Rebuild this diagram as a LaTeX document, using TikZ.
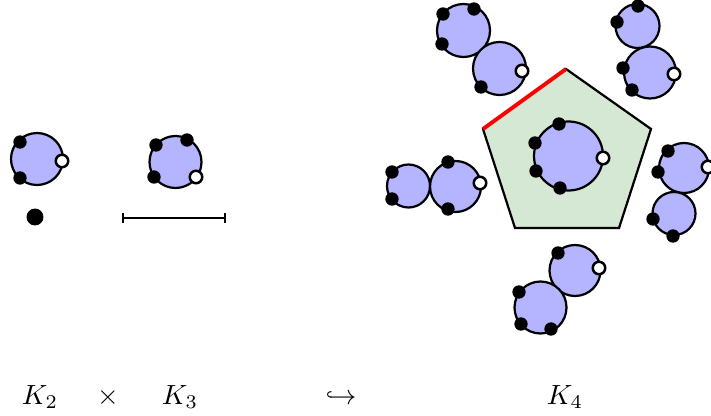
\documentclass[tikz,border=0pt]{standalone}
\usetikzlibrary{arrows.meta}
\definecolor{bubblue}{RGB}{180,180,255}
\definecolor{pentgreen}{RGB}{213,232,212}
\begin{document}
\begin{tikzpicture}[x=0.36pt,y=-0.36pt,
  bub/.style={circle, draw, fill=bubblue, line width=0.8pt, minimum size=#1*0.72pt, inner sep=0pt},
  bdot/.style={circle, fill=black, minimum size=4.8pt, inner sep=0pt},
  wdot/.style={circle, draw, fill=white, line width=0.9pt, minimum size=4.5pt, inner sep=0pt},
  lab/.style={inner sep=0pt, anchor=base}]
\useasboundingbox (0,0) rectangle (711,415);
% K2
\node[bub=26] (a) at (37,159) {};
\node[bdot] (a1) at (20,142) {};
\node[bdot] (a2) at (20,178) {};
\node[wdot] (a3) at (62,161) {};
\node[circle, fill=black, minimum size=6.1pt, inner sep=0pt] (pt) at (35,217) {};
% K3
\node[bub=26] (b) at (175.5,162) {};
\node[bdot] (b1) at (156,145) {};
\node[bdot] (b2) at (187,140) {};
\node[bdot] (b3) at (154,177) {};
\node[wdot] (b4) at (196,177) {};
\coordinate (s1) at (122,218);
\coordinate (s2) at (226,218);
\draw[line width=0.65pt, {Bar[width=3.5pt]}-{Bar[width=3.5pt]}] (s1) -- (s2);
% pentagon
\coordinate (p1) at (566,69);
\coordinate (p2) at (651,129);
\coordinate (p3) at (619,228);
\coordinate (p4) at (515,228);
\coordinate (p5) at (483,129);
\draw[fill=pentgreen, line width=0.8pt, line join=miter] (p1) -- (p2) -- (p3) -- (p4) -- (p5) -- cycle;
\draw[red, line width=1.4pt] (p5) -- (p1);
% inner bubble
\node[bub=34.5] (c) at (568.5,156) {};
\node[bdot] (c1) at (559,124) {};
\node[bdot] (c2) at (535,143) {};
\node[bdot] (c3) at (536,171) {};
\node[bdot] (c4) at (560,188) {};
\node[wdot] (c5) at (603,158) {};
% top-left pair
\node[bub=26.5] (d) at (463.5,30.5) {};
\node[bub=26.5] (e) at (499.5,68.5) {};
\node[bdot] (d1) at (443,14) {};
\node[bdot] (d2) at (474,9) {};
\node[bdot] (d3) at (442,44) {};
\node[wdot] (e1) at (522,71) {};
\node[bdot] (e2) at (481,87) {};
% top-right pair
\node[bub=22] (f) at (637.5,26) {};
\node[bub=26] (g) at (650,72.5) {};
\node[bdot] (f1) at (638,6) {};
\node[bdot] (f2) at (617,22) {};
\node[bdot] (g1) at (623,68) {};
\node[bdot] (g2) at (632,90) {};
\node[wdot] (g3) at (674,74) {};
% left pair
\node[bub=21.5] (h) at (408.5,186) {};
\node[bub=25.5] (i) at (455.5,186.5) {};
\node[bdot] (h1) at (392,172) {};
\node[bdot] (h2) at (392,199) {};
\node[bdot] (i1) at (448,162) {};
\node[bdot] (i2) at (448,209) {};
\node[wdot] (i3) at (480,183) {};
% right pair
\node[bub=25] (j) at (684,168) {};
\node[bub=21.5] (k) at (674,213.5) {};
\node[bdot] (j1) at (668,151) {};
\node[bdot] (j2) at (658,172) {};
\node[wdot] (j3) at (708,167) {};
\node[bdot] (k1) at (653,219) {};
\node[bdot] (k2) at (673,236) {};
% bottom pair
\node[bub=25.5] (l) at (575,270.5) {};
\node[bub=26] (m) at (540.5,307.5) {};
\node[bdot] (l1) at (558,253) {};
\node[wdot] (l2) at (599,268) {};
\node[bdot] (m1) at (519,292) {};
\node[bdot] (m2) at (521,324) {};
\node[bdot] (m3) at (551,329) {};
% labels
\node[lab] (t1) at (40,404) {$K_2$};
\node[lab] (t2) at (108,404) {$\times$};
\node[lab] (t3) at (180,404) {$K_3$};
\node[lab] (t4) at (341,404) {$\hookrightarrow$};
\node[lab] (t5) at (565,404) {$K_4$};
\end{tikzpicture}
\end{document}
